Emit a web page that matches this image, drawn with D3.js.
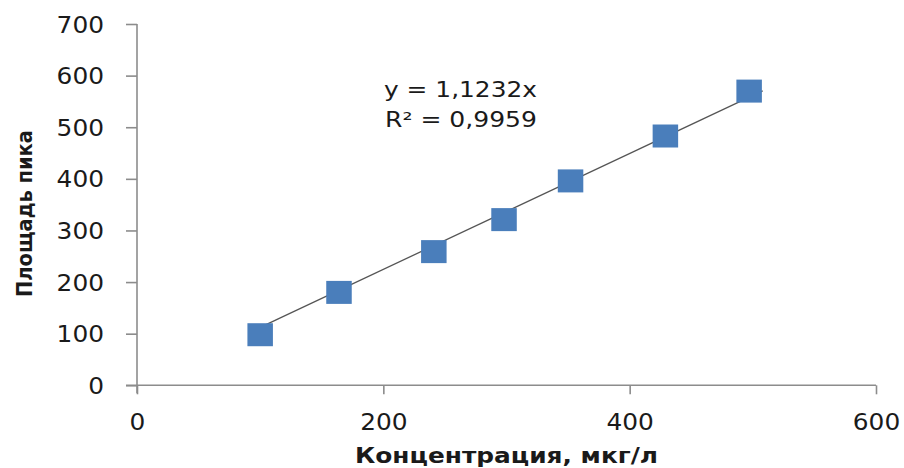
<!DOCTYPE html>
<html>
<head>
<meta charset="utf-8">
<script src="https://cdn.jsdelivr.net/npm/d3@7"></script>
<style>
  html, body { margin: 0; padding: 0; background: #fff; }
  svg { display: block; }
  .tick text { font-family: "DejaVu Sans", sans-serif; fill: #1a1a1a; }
</style>
</head>
<body>
<svg id="chart" width="904" height="468"></svg>
<script>
// ---- data ----
const concentration = [100, 164, 241, 298, 352, 429, 497];   // мкг/л
const peakArea      = [98, 180, 259, 321, 396, 483, 570];
const slope = 1.1232;
const rSquared = "0,9959";
const trendRange = [100, 508];
const xTicks = [0, 200, 400, 600];
const yTicks = [0, 100, 200, 300, 400, 500, 600, 700];
const xTitle = "Концентрация, мкг/л";
const yTitle = "Площадь пика";
const eqLine1 = "y = 1,1232x";
const eqLine2 = "R² = " + rSquared;

// ---- layout ----
const svg = d3.select("#chart");
const x = d3.scaleLinear().domain([0, 600]).range([137, 876]);
const y = d3.scaleLinear().domain([0, 700]).range([385.3, 24]);
const axisColor = "#8c8c8c";

// y axis
const yAxis = svg.append("g")
  .attr("transform", `translate(${x(0)},0)`)
  .call(d3.axisLeft(y).tickValues(yTicks).tickSize(11).tickPadding(22)
        .tickFormat(d3.format("d")));
yAxis.select(".domain").remove();
yAxis.selectAll(".tick line").attr("stroke", axisColor).attr("stroke-width", 1.6);
yAxis.selectAll(".tick text").attr("font-size", 22.5).attr("dy", "0.36em")
  .attr("textLength", d => String(d).length * 15.8).attr("lengthAdjust", "spacingAndGlyphs");

// x axis
const xAxis = svg.append("g")
  .attr("transform", `translate(0,${y(0)})`)
  .call(d3.axisBottom(x).tickValues(xTicks).tickSize(9).tickPadding(23)
        .tickFormat(d3.format("d")));
xAxis.select(".domain").remove();
xAxis.selectAll(".tick line").attr("stroke", axisColor).attr("stroke-width", 1.6);
xAxis.selectAll(".tick text").attr("font-size", 22.5).attr("dy", "0")
  .attr("y", 45)
  .attr("textLength", d => String(d).length * 15.8).attr("lengthAdjust", "spacingAndGlyphs");

// axis lines
svg.append("line")
  .attr("x1", x(0)).attr("x2", x(0))
  .attr("y1", y(700)).attr("y2", y(0) + 8)
  .attr("stroke", axisColor).attr("stroke-width", 1.6);
svg.append("line")
  .attr("x1", x(0) - 11).attr("x2", x(600))
  .attr("y1", y(0)).attr("y2", y(0))
  .attr("stroke", axisColor).attr("stroke-width", 1.6);

// trendline
svg.append("line")
  .attr("x1", x(trendRange[0])).attr("y1", y(slope * trendRange[0]))
  .attr("x2", x(trendRange[1])).attr("y2", y(slope * trendRange[1]))
  .attr("stroke", "#555").attr("stroke-width", 1.3);

// markers
const data = concentration.map((c, i) => ({ c, a: peakArea[i] }));
const mw = 25.5, mh = 23;
svg.selectAll("rect.pt").data(data).enter().append("rect")
  .attr("class", "pt")
  .attr("x", d => x(d.c) - mw / 2)
  .attr("y", d => y(d.a) - mh / 2)
  .attr("width", mw).attr("height", mh)
  .attr("fill", "#4a7ebb");

// equation
const eq = svg.append("g").attr("font-family", "DejaVu Sans, sans-serif")
  .attr("font-size", 20.5).attr("fill", "#1a1a1a");
eq.append("text").attr("x", 384).attr("y", 96.5).text(eqLine1)
  .attr("textLength", 153).attr("lengthAdjust", "spacingAndGlyphs");
eq.append("text").attr("x", 385).attr("y", 126.5).text(eqLine2)
  .attr("textLength", 152).attr("lengthAdjust", "spacingAndGlyphs");

// axis titles
svg.append("text")
  .attr("x", 506.5).attr("y", 463)
  .attr("text-anchor", "middle")
  .attr("font-family", "DejaVu Sans, sans-serif")
  .attr("font-weight", "bold").attr("font-size", 21).attr("fill", "#1a1a1a")
  .attr("textLength", 303).attr("lengthAdjust", "spacingAndGlyphs")
  .text(xTitle);
svg.append("text")
  .attr("transform", "translate(32,213.5) rotate(-90)")
  .attr("text-anchor", "middle")
  .attr("font-family", "DejaVu Sans, sans-serif")
  .attr("font-weight", "bold").attr("font-size", 21.5).attr("fill", "#1a1a1a")
  .attr("textLength", 167).attr("lengthAdjust", "spacingAndGlyphs")
  .text(yTitle);
</script>
</body>
</html>
